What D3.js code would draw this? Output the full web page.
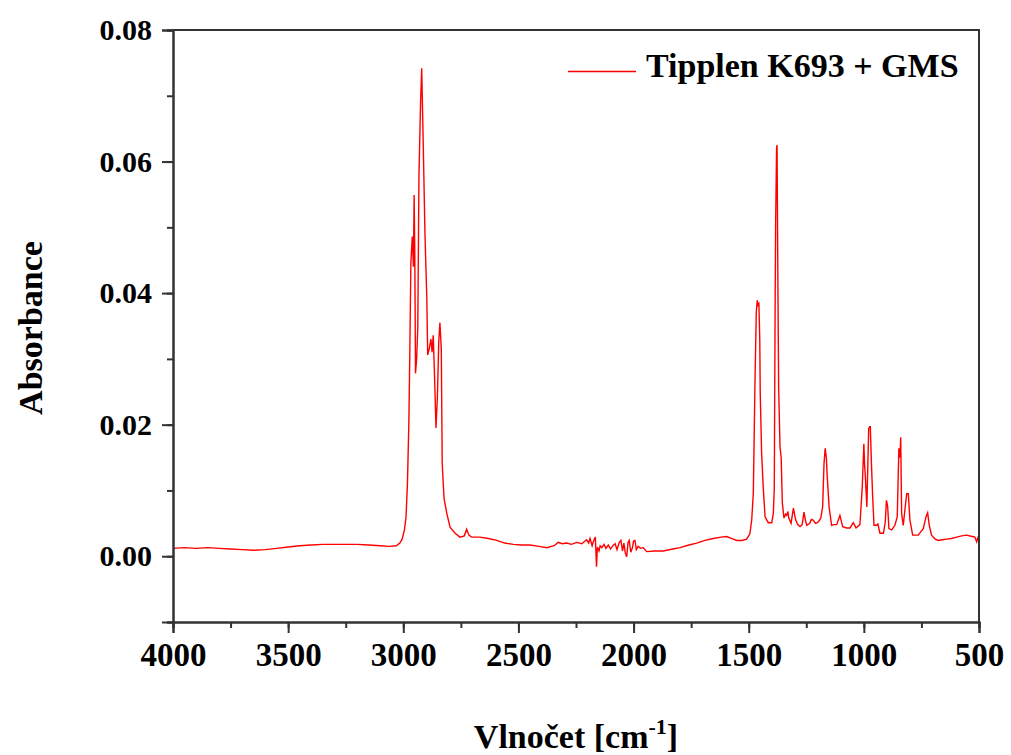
<!DOCTYPE html>
<html>
  <head>
    <meta charset="utf-8">
    <title>Tipplen K693 + GMS</title>
    <style>
      body { margin: 0; background: #fff; }
      text { font-family: "Liberation Serif", "Times New Roman", serif; font-weight: bold; fill: #000; }
    </style>
  </head>
  <body>
    <script src="https://d3js.org/d3.v7.min.js"></script>
    <svg id="chart" width="1011" height="755"></svg>
    <script>
      // spectrum (cm-1, absorbance)
      const wavenumber = [
        4000, 3950, 3900, 3850, 3800, 3750, 3700, 3650, 3600, 3550, 3500, 3450, 3400, 3350, 3300, 3250,
        3200, 3150, 3100, 3060, 3030, 3015, 3005, 2995, 2988, 2982, 2976, 2972, 2967, 2961, 2956, 2953,
        2950, 2947, 2942, 2937, 2932, 2925, 2920, 2914, 2906, 2898, 2894, 2887, 2880, 2875, 2870, 2865,
        2858, 2852, 2846, 2841, 2835, 2831, 2823, 2811, 2797, 2775, 2754, 2735, 2725, 2715, 2703, 2667,
        2630, 2594, 2560, 2522, 2490, 2450, 2410, 2377, 2345, 2327, 2310, 2290, 2270, 2247, 2225, 2204,
        2195, 2189, 2180, 2175, 2166, 2161, 2157, 2150, 2145, 2138, 2128, 2120, 2110, 2100, 2090, 2080,
        2072, 2062, 2055, 2048, 2042, 2036, 2030, 2024, 2019, 2012, 2005, 2000, 1994, 1988, 1980, 1970,
        1958, 1943, 1910, 1871, 1830, 1798, 1760, 1726, 1690, 1654, 1620, 1596, 1575, 1552, 1530, 1509,
        1495, 1487, 1480, 1473, 1467, 1463, 1460, 1456, 1452, 1450, 1444, 1437, 1429, 1415, 1400, 1393,
        1389, 1385, 1383, 1379, 1377, 1373, 1370, 1364, 1359, 1354, 1347, 1340, 1335, 1330, 1326, 1316,
        1306, 1296, 1287, 1277, 1268, 1260, 1254, 1248, 1235, 1228, 1220, 1210, 1202, 1194, 1187, 1179,
        1173, 1168, 1163, 1159, 1151, 1140, 1130, 1118, 1104, 1092, 1075, 1060, 1046, 1034, 1017, 1007,
        1000, 997, 993, 987, 982, 979, 975, 972, 967, 962, 956, 944, 939, 930, 915, 907,
        902, 897, 891, 879, 865, 855, 848, 843, 840, 836, 829, 821, 814, 807, 800, 788,
        764, 742, 730, 723, 716, 706, 690, 677, 660, 640, 620, 597, 575, 554, 530, 518,
        510, 505, 500
      ]
      const absorbance = [
        0.0012, 0.0013, 0.0012, 0.0013, 0.0012, 0.0011, 0.0010, 0.0009, 0.0010, 0.0012, 0.0014, 0.0016, 0.0017, 0.0018, 0.0018, 0.0018,
        0.0018, 0.0017, 0.0016, 0.0015, 0.0016, 0.0020, 0.0026, 0.0040, 0.0060, 0.0110, 0.0200, 0.0300, 0.0446, 0.0486, 0.0440, 0.0549,
        0.0460, 0.0278, 0.0300, 0.0348, 0.0577, 0.0689, 0.0742, 0.0638, 0.0492, 0.0394, 0.0306, 0.0316, 0.0330, 0.0310, 0.0336, 0.0283,
        0.0195, 0.0240, 0.0326, 0.0355, 0.0316, 0.0141, 0.0088, 0.0065, 0.0044, 0.0035, 0.0029, 0.0031, 0.0041, 0.0032, 0.0029, 0.0029,
        0.0027, 0.0024, 0.0020, 0.0018, 0.0017, 0.0017, 0.0015, 0.0013, 0.0016, 0.0021, 0.0019, 0.0020, 0.0018, 0.0021, 0.0019, 0.0025,
        0.0020, 0.0027, 0.0016, 0.0022, 0.0029, -0.0016, 0.0014, 0.0008, 0.0016, 0.0013, 0.0018, 0.0012, 0.0017, 0.0011, 0.0016, 0.0019,
        0.0010, 0.0021, 0.0024, 0.0008, 0.0020, 0.0005, -0.0001, 0.0021, 0.0024, 0.0006, 0.0013, 0.0023, 0.0024, 0.0010, 0.0015, 0.0012,
        0.0013, 0.0007, 0.0008, 0.0008, 0.0011, 0.0013, 0.0017, 0.0020, 0.0024, 0.0027, 0.0029, 0.0030, 0.0027, 0.0024, 0.0024, 0.0026,
        0.0034, 0.0055, 0.0096, 0.0260, 0.0372, 0.0389, 0.0380, 0.0386, 0.0330, 0.0248, 0.0157, 0.0105, 0.0060, 0.0051, 0.0051, 0.0065,
        0.0103, 0.0400, 0.0508, 0.0620, 0.0625, 0.0400, 0.0255, 0.0166, 0.0149, 0.0081, 0.0058, 0.0064, 0.0062, 0.0068, 0.0058, 0.0050,
        0.0073, 0.0055, 0.0048, 0.0045, 0.0048, 0.0067, 0.0055, 0.0047, 0.0050, 0.0056, 0.0055, 0.0050, 0.0051, 0.0054, 0.0058, 0.0075,
        0.0141, 0.0164, 0.0150, 0.0121, 0.0075, 0.0047, 0.0048, 0.0048, 0.0062, 0.0045, 0.0043, 0.0043, 0.0051, 0.0043, 0.0048, 0.0105,
        0.0171, 0.0140, 0.0118, 0.0075, 0.0150, 0.0194, 0.0197, 0.0197, 0.0140, 0.0093, 0.0047, 0.0047, 0.0049, 0.0035, 0.0035, 0.0052,
        0.0085, 0.0077, 0.0042, 0.0040, 0.0047, 0.0060, 0.0164, 0.0150, 0.0181, 0.0065, 0.0047, 0.0073, 0.0095, 0.0095, 0.0055, 0.0032,
        0.0032, 0.0042, 0.0060, 0.0066, 0.0047, 0.0032, 0.0026, 0.0024, 0.0025, 0.0026, 0.0027, 0.0029, 0.0031, 0.0032, 0.0030, 0.0029,
        0.0022, 0.0028, 0.0025
      ]
      const xTicks = [4000, 3500, 3000, 2500, 2000, 1500, 1000, 500]
      const yTicks = [0.00, 0.02, 0.04, 0.06, 0.08]
      const seriesName = 'Tipplen K693 + GMS'

      const margin = { top: 30, right: 32, bottom: 133, left: 173 }
      const width = 1011, height = 755
      const svg = d3.select('#chart')

      const x = d3.scaleLinear([4000, 500], [margin.left, width - margin.right])
      const y = d3.scaleLinear([-0.01, 0.08], [height - margin.bottom, margin.top])

      const points = wavenumber.map((v, i) => [v, absorbance[i]])

      const line = d3.line()
        .x(d => x(d[0]))
        .y(d => y(d[1]))

      svg.append('path')
        .datum(points)
        .attr('d', line)
        .style('fill', 'none')
        .style('stroke', '#ff0000')
        .style('stroke-width', 1.4)

      // minor ticks first so the major ones sit on top
      svg.append('g')
        .attr('transform', `translate(0,${ y(-0.01) })`)
        .call(d3.axisBottom(x).tickValues(d3.range(4000, 499, -250)).tickSize(6).tickFormat(''))
      svg.append('g')
        .attr('transform', `translate(${ margin.left },0)`)
        .call(d3.axisLeft(y).tickValues(d3.range(-0.01, 0.0801, 0.01)).tickSize(6).tickFormat(''))

      const xAxis = svg.append('g')
        .attr('class', 'x-axis')
        .attr('transform', `translate(0,${ y(-0.01) })`)
        .call(d3.axisBottom(x).tickValues(xTicks).tickSize(11).tickPadding(10).tickFormat(d3.format('d')))
      xAxis.selectAll('text').style('font-size', '33px').attr('dy', '0.71em')

      const yAxis = svg.append('g')
        .attr('class', 'y-axis')
        .attr('transform', `translate(${ margin.left },0)`)
        .call(d3.axisLeft(y).tickValues(yTicks).tickSize(11).tickPadding(10).tickFormat(d3.format('.2f')))
      yAxis.selectAll('text').style('font-size', '30px')

      svg.selectAll('.domain, .tick line')
        .style('stroke', '#333')
        .style('stroke-width', 2)

      // top and right frame
      svg.append('path')
        .attr('d', `M${ x(4000) },${ y(0.08) }H${ x(500) }V${ y(-0.01) }`)
        .style('fill', 'none')
        .style('stroke', '#333')
        .style('stroke-width', 2)

      // legend
      svg.append('line')
        .attr('x1', 568).attr('x2', 636)
        .attr('y1', 71.5).attr('y2', 71.5)
        .style('stroke', '#ff0000')
        .style('stroke-width', 1.4)
      svg.append('text')
        .attr('x', 646).attr('y', 77)
        .style('font-size', '34px')
        .text(seriesName)

      // axis titles
      svg.append('text')
        .attr('transform', `translate(42,${ (y(0.08) + y(-0.01)) / 2 + 2 }) rotate(-90)`)
        .attr('text-anchor', 'middle')
        .style('font-size', '34px')
        .text('Absorbance')

      const xTitle = svg.append('text')
        .attr('x', (x(4000) + x(500)) / 2)
        .attr('y', 748)
        .attr('text-anchor', 'middle')
        .style('font-size', '34px')
      xTitle.append('tspan').text('Vlnočet [cm')
      xTitle.append('tspan').attr('dy', -14).style('font-size', '22px').text('-1')
      xTitle.append('tspan').attr('dy', 14).text(']')
    </script>
  </body>
</html>
